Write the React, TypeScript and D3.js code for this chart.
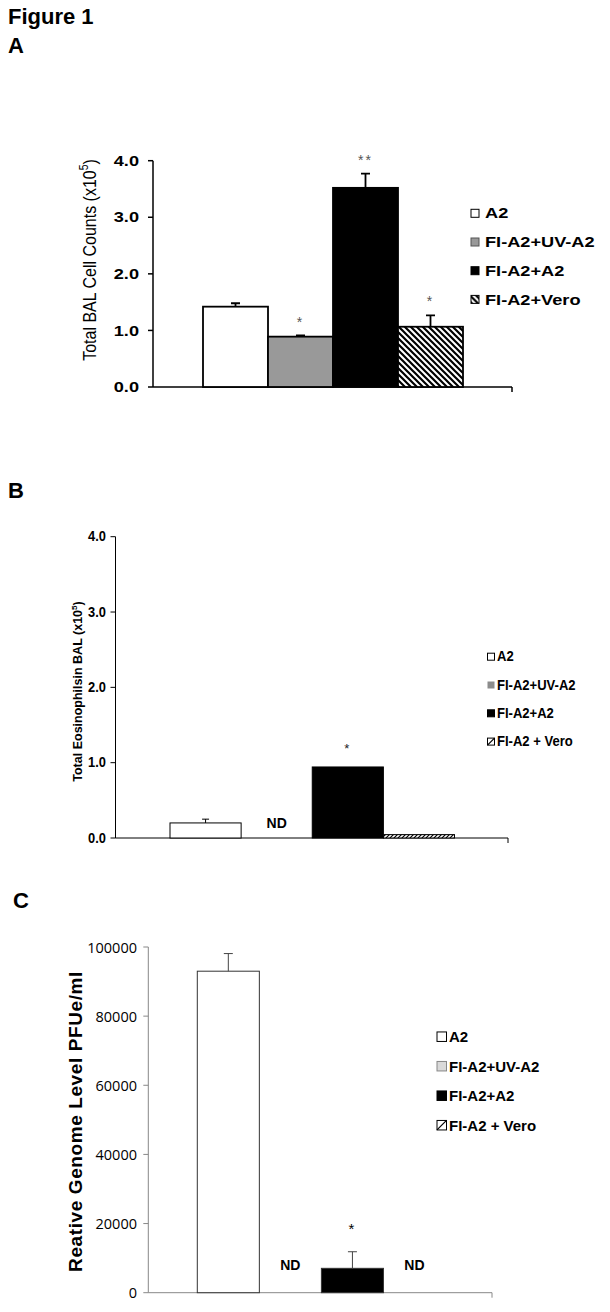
import React, { useEffect, useRef } from "react";
import * as d3 from "d3";

// groups shown in every panel
const groups = ["A2", "FI-A2+UV-A2", "FI-A2+A2", "FI-A2+Vero"];
const legendA = ["A2", "FI-A2+UV-A2", "FI-A2+A2", "FI-A2+Vero"];
const legendBC = ["A2", "FI-A2+UV-A2", "FI-A2+A2", "FI-A2 + Vero"];

// A: total BAL cell counts (x10^5)
const valuesA = [1.42, 0.89, 3.52, 1.065];
const errorsA = [0.06, 0.02, 0.25, 0.2];
const starsA = ["", "*", "**", "*"];
const ticksA = [0, 1, 2, 3, 4];

// B: total eosinophils in BAL (x10^5), null = ND
const valuesB = [0.2, null, 0.943, 0.045];
const errorsB = [0.05, null, 0, 0];
const starsB = ["", "", "*", ""];
const ticksB = [0, 1, 2, 3, 4];

// C: relative genome level PFUe/ml
const valuesC = [93000, null, 7050, null];
const errorsC = [5100, null, 4800, null];
const starsC = ["", "", "*", ""];
const ticksC = [0, 20000, 40000, 60000, 80000, 100000];

const ARIAL = "Arial, 'Liberation Sans', Helvetica, sans-serif";

const panels = [
  {
    values: valuesA, errors: errorsA, stars: starsA, ticks: ticksA, yMax: 4,
    fmt: d3.format(".1f"),
    axisX: 153, axisEnd: 512, yTop: 160.7, yBottom: 387, barStart: 203, barEnd: 463,
    axisColor: "#000", axisWidth: 1.5, labelRight: 139,
    tickFont: { size: 14, weight: "bold", family: ARIAL, sx: 1.3 },
    fills: ["#fff", "#999", "#000", "url(#hatchA)"],
    barStroke: "#000", barStrokeWidth: 1.8, errColor: "#000", errWidth: 1.8, cap: 9,
    title: ["Total BAL Cell Counts (x10", "5", ")"],
    titleX: 90, titleY: 260,
    titleFont: { size: 16, weight: "normal", family: ARIAL, sx: 1.15, ls: 0 },
    legend: legendA, legX: 471, legSize: 8, legTextX: 485, legY: 213.3, legStep: 28.7,
    legFont: { size: 14, weight: "bold", family: ARIAL, sx: 1.3 },
    legStrokes: ["#000", "#555", "#000", "#000"], legSlash: false,
    starColor: "#555", starSize: 14, starGap: 9,
    ndSize: 14, ndGap: 11,
  },
  {
    values: valuesB, errors: errorsB, stars: starsB, ticks: ticksB, yMax: 4,
    fmt: d3.format(".1f"),
    axisX: 115.5, axisEnd: 508, yTop: 536.7, yBottom: 838, barStart: 170, barEnd: 454.5,
    axisColor: "#000", axisWidth: 1, labelRight: 106,
    tickFont: { size: 14, weight: "bold", family: ARIAL, sx: 0.92 },
    fills: ["#fff", "#8c8c8c", "#000", "url(#hatchB)"],
    barStroke: "#000", barStrokeWidth: 1, errColor: "#000", errWidth: 1, cap: 7,
    title: ["Total Eosinophilsin BAL (x10", "5", ")"],
    titleX: 78, titleY: 691.5,
    titleFont: { size: 12.5, weight: "bold", family: ARIAL, sx: 1, ls: 0 },
    legend: legendBC, legX: 487.5, legSize: 7, legTextX: 497, legY: 656.7, legStep: 28.3,
    legFont: { size: 14.5, weight: "bold", family: ARIAL, sx: 0.9 },
    legStrokes: ["#000", "none", "#000", "#000"], legSlash: true,
    starColor: "#222", starSize: 13, starGap: 14,
    ndSize: 14, ndGap: 10,
  },
  {
    values: valuesC, errors: errorsC, stars: starsC, ticks: ticksC, yMax: 100000,
    fmt: d3.format("d"),
    axisX: 148.3, axisEnd: 492, yTop: 947, yBottom: 1292.7, barStart: 197.3, barEnd: 445.5,
    axisColor: "#888", axisWidth: 1, labelRight: 137,
    tickFont: { size: 14.5, weight: "normal", family: "'Open Sans', sans-serif", sx: 1 },
    fills: ["#fff", "#d9d9d9", "#000", "url(#hatchC)"],
    barStroke: "#333", barStrokeWidth: 1, errColor: "#444", errWidth: 1, cap: 9,
    title: ["Reative Genome Level PFUe/ml"],
    titleX: 75, titleY: 1121.5,
    titleFont: { size: 19, weight: "bold", family: ARIAL, sx: 1, ls: 0.6 },
    legend: legendBC, legX: 437, legSize: 9.5, legTextX: 449, legY: 1036.7, legStep: 29.5,
    legFont: { size: 15, weight: "bold", family: ARIAL, sx: 1 },
    legStrokes: ["#000", "#888", "#000", "#000"], legSlash: true,
    starColor: "#000", starSize: 15, starGap: 18,
    ndSize: 14, ndGap: 22.7,
  },
];

function drawPanel(root, p) {
  const g = root.append("g");
  const y = d3.scaleLinear().domain([0, p.yMax]).range([p.yBottom, p.yTop]);
  const x = d3.scaleBand().domain(groups).range([p.barStart, p.barEnd]).padding(0);

  // y axis
  g.append("line")
    .attr("x1", p.axisX).attr("x2", p.axisX)
    .attr("y1", y(0)).attr("y2", y(p.yMax))
    .attr("stroke", p.axisColor).attr("stroke-width", p.axisWidth);

  g.selectAll(".ytick")
    .data(p.ticks)
    .enter()
    .append("line")
    .attr("x1", p.axisX - 5).attr("x2", p.axisX)
    .attr("y1", (d) => y(d)).attr("y2", (d) => y(d))
    .attr("stroke", p.axisColor).attr("stroke-width", p.axisWidth);

  g.selectAll(".ylabel")
    .data(p.ticks)
    .enter()
    .append("text")
    .attr("transform", (d) => `translate(${p.labelRight},${y(d)}) scale(${p.tickFont.sx},1)`)
    .attr("text-anchor", "end")
    .attr("dominant-baseline", "central")
    .style("font-family", p.tickFont.family)
    .style("font-size", p.tickFont.size + "px")
    .style("font-weight", p.tickFont.weight)
    .attr("fill", "#000")
    .text((d) => p.fmt(d));

  // x axis
  g.append("line")
    .attr("x1", p.axisX).attr("x2", p.axisEnd)
    .attr("y1", y(0)).attr("y2", y(0))
    .attr("stroke", p.axisColor).attr("stroke-width", p.axisWidth);
  g.append("line")
    .attr("x1", p.axisEnd).attr("x2", p.axisEnd)
    .attr("y1", y(0)).attr("y2", y(0) + 5)
    .attr("stroke", p.axisColor).attr("stroke-width", p.axisWidth);

  const rows = groups.map((k, i) => ({ k, i, v: p.values[i], e: p.errors[i], s: p.stars[i] }));
  const present = rows.filter((r) => r.v != null);

  // bars
  g.selectAll(".bar")
    .data(present)
    .enter()
    .append("rect")
    .attr("x", (d) => x(d.k))
    .attr("y", (d) => y(d.v))
    .attr("width", x.bandwidth())
    .attr("height", (d) => y(0) - y(d.v))
    .attr("fill", (d) => p.fills[d.i])
    .attr("stroke", p.barStroke)
    .attr("stroke-width", p.barStrokeWidth);

  // error bars
  const withErr = present.filter((d) => d.e > 0);
  const cx = (d) => x(d.k) + x.bandwidth() / 2;
  g.selectAll(".err")
    .data(withErr)
    .enter()
    .append("path")
    .attr("d", (d) => `M${cx(d)},${y(d.v)}V${y(d.v + d.e)}M${cx(d) - p.cap / 2},${y(d.v + d.e)}H${cx(d) + p.cap / 2}`)
    .attr("fill", "none")
    .attr("stroke", p.errColor)
    .attr("stroke-width", p.errWidth);

  // significance
  g.selectAll(".star")
    .data(present.filter((d) => d.s))
    .enter()
    .append("text")
    .attr("x", cx)
    .attr("y", (d) => y(d.v + (d.e || 0)) - p.starGap)
    .attr("text-anchor", "middle")
    .style("font-family", ARIAL)
    .style("font-size", p.starSize + "px")
    .style("letter-spacing", "2px")
    .attr("fill", p.starColor)
    .text((d) => d.s);

  // not detected
  g.selectAll(".nd")
    .data(rows.filter((r) => r.v == null))
    .enter()
    .append("text")
    .attr("x", cx)
    .attr("y", y(0) - p.ndGap)
    .attr("text-anchor", "middle")
    .style("font-family", ARIAL)
    .style("font-size", p.ndSize + "px")
    .style("font-weight", "bold")
    .attr("fill", "#000")
    .text("ND");

  // axis title
  const t = g.append("text")
    .attr("transform", `translate(${p.titleX},${p.titleY}) scale(${p.titleFont.sx},1) rotate(-90)`)
    .attr("text-anchor", "middle")
    .attr("dominant-baseline", "central")
    .style("font-family", p.titleFont.family)
    .style("font-size", p.titleFont.size + "px")
    .style("font-weight", p.titleFont.weight)
    .style("letter-spacing", p.titleFont.ls + "px")
    .attr("fill", "#000");
  t.append("tspan").text(p.title[0]);
  if (p.title.length > 1) {
    t.append("tspan").attr("dy", -p.titleFont.size * 0.35).style("font-size", p.titleFont.size * 0.65 + "px").text(p.title[1]);
    t.append("tspan").attr("dy", p.titleFont.size * 0.35).text(p.title[2]);
  }

  // legend
  const leg = g.selectAll(".leg")
    .data(p.legend)
    .enter()
    .append("g")
    .attr("transform", (d, i) => `translate(0,${p.legY + i * p.legStep})`);
  leg.append("rect")
    .attr("x", p.legX)
    .attr("y", -p.legSize / 2)
    .attr("width", p.legSize)
    .attr("height", p.legSize)
    .attr("fill", (d, i) => (p.legSlash && i === 3 ? "#fff" : p.fills[i]))
    .attr("stroke", (d, i) => p.legStrokes[i])
    .attr("stroke-width", 1);
  if (p.legSlash) {
    leg.filter((d, i) => i === 3)
      .append("line")
      .attr("x1", p.legX).attr("y1", p.legSize / 2)
      .attr("x2", p.legX + p.legSize).attr("y2", -p.legSize / 2)
      .attr("stroke", "#000").attr("stroke-width", 1.2);
  }
  leg.append("text")
    .attr("transform", `translate(${p.legTextX},0) scale(${p.legFont.sx},1)`)
    .attr("dominant-baseline", "central")
    .style("font-family", p.legFont.family)
    .style("font-size", p.legFont.size + "px")
    .style("font-weight", p.legFont.weight)
    .attr("fill", "#000")
    .text((d) => d);
}

const App = () => {
  const ref = useRef(null);

  useEffect(() => {
    const svg = d3.select(ref.current);
    svg.selectAll("*").remove();

    const defs = svg.append("defs");
    const hatch = (id, size, d, w) => {
      const pat = defs.append("pattern")
        .attr("id", id)
        .attr("patternUnits", "userSpaceOnUse")
        .attr("width", size).attr("height", size);
      pat.append("rect").attr("width", size).attr("height", size).attr("fill", "#fff");
      pat.append("path").attr("d", d).attr("stroke", "#000").attr("stroke-width", w);
    };
    hatch("hatchA", 6, "M0,0L6,6M-1,5L1,7M5,-1L7,1", 2.2);
    hatch("hatchB", 4, "M0,4L4,0M-1,1L1,-1M3,5L5,3", 1.2);
    hatch("hatchC", 5, "M0,5L5,0M-1,1L1,-1M4,6L6,4", 1);

    const labels = [
      { t: "Figure 1", x: 8, y: 24 },
      { t: "A", x: 8, y: 53 },
      { t: "B", x: 8, y: 498 },
      { t: "C", x: 13, y: 908 },
    ];
    svg.selectAll(".lbl")
      .data(labels)
      .enter()
      .append("text")
      .attr("x", (d) => d.x)
      .attr("y", (d) => d.y)
      .style("font-family", ARIAL)
      .style("font-size", "22px")
      .style("font-weight", "bold")
      .attr("fill", "#000")
      .text((d) => d.t);

    panels.forEach((p) => drawPanel(svg, p));
  }, []);

  return (
    <svg
      ref={ref}
      width={610}
      height={1312}
      style={{ position: "absolute", left: 0, top: 0, background: "#fff" }}
    />
  );
};

export default App;
